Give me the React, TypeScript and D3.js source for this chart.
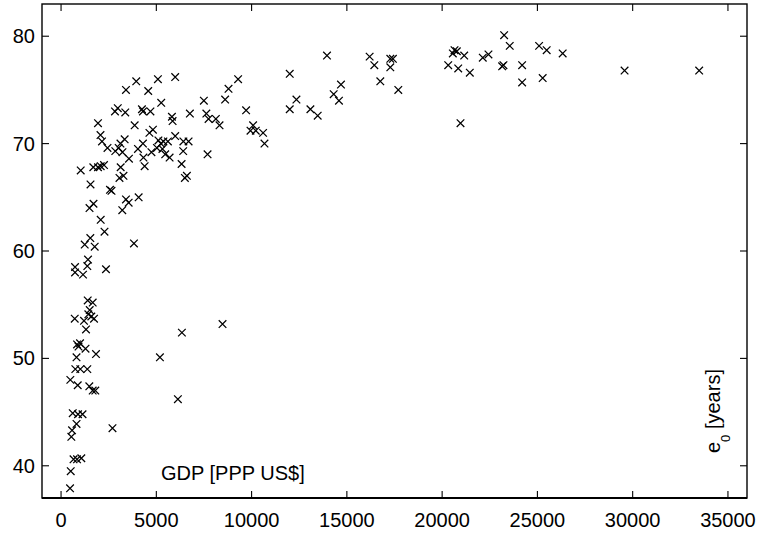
import React from "react";
import * as d3 from "d3";

const gdp = [
  1032, 1693, 1939, 2081, 2254, 1939, 2070, 2149, 2437, 2830, 2977, 3370, 3407, 3946, 4575, 5084, 5990, 5257,
  4245, 4298, 4691, 3863, 2846, 3024, 3118, 3223, 3338, 3564, 3129, 3276, 3066, 4036, 4298, 4324, 4387, 4743,
  4638, 4822, 5110, 5241, 5372, 5608, 5031, 5320, 5466, 5697, 5990, 5818, 5854, 6326, 6420, 6693, 6410, 6761,
  6499, 6604, 7495, 7626, 7741, 7689, 8124, 8317, 8611, 8789, 9292, 9712, 9942, 10079, 10220, 10603, 10676,
  12002, 13957, 12002, 12353, 13087, 13469, 14308, 14691, 14586, 16195, 16441, 16755, 17280, 17416, 17280,
  17699, 20319, 20561, 20650, 20770, 21158, 20844, 21452, 20964, 22133, 22431, 23150, 23218, 23254, 23548,
  24198, 24198, 25089, 25487, 25277, 26326, 29575, 33490,
  1494, 1703, 3407, 3548, 3213, 4072, 2081, 2280, 1242, 1536, 1766, 3826, 1415, 1378, 734, 734, 1153, 2358,
  1399, 1661, 1504, 1431, 1588, 718, 1205, 1730, 1310, 6342, 8475, 2568, 2647, 1546,
  839, 996, 917, 1284, 1834, 812, 5189, 749, 1012, 1378, 487, 875, 1483, 1661, 1798, 6132, 613, 891, 1127,
  812, 577, 540, 2699, 655, 839, 1064, 508, 472,
];

const e0 = [
  67.5, 67.8, 67.8, 67.9, 68.0, 71.9, 70.8, 70.2, 69.6, 73.0, 73.3, 72.9, 75.0, 75.8, 74.9, 76.0, 76.2, 73.8,
  73.2, 73.0, 73.0, 71.7, 69.3, 69.6, 70.0, 69.2, 70.4, 68.6, 67.8, 67.0, 66.8, 69.5, 70.0, 68.7, 67.9, 69.2,
  71.0, 71.3, 70.3, 70.0, 70.2, 70.2, 69.6, 69.5, 69.0, 68.7, 70.7, 72.5, 72.1, 68.1, 70.2, 70.2, 69.3, 72.8,
  66.8, 67.0, 74.0, 72.8, 72.3, 69.0, 72.3, 71.7, 74.1, 75.1, 76.0, 73.1, 71.2, 71.7, 71.2, 71.0, 70.0,
  76.5, 78.2, 73.2, 74.1, 73.2, 72.6, 74.6, 75.5, 74.0, 78.1, 77.3, 75.8, 77.9, 77.9, 77.1,
  75.0, 77.3, 78.4, 78.7, 78.6, 78.2, 77.0, 76.6, 71.9, 78.0, 78.3, 77.2, 77.3, 80.1, 79.1,
  77.3, 75.7, 79.1, 78.7, 76.1, 78.4, 76.8, 76.8,
  64.0, 64.4, 64.8, 64.5, 63.8, 65.0, 62.9, 61.8, 60.6, 61.2, 60.4, 60.7, 59.2, 58.6, 58.5, 58.0, 57.8, 58.3,
  55.4, 55.2, 54.5, 54.1, 53.9, 53.7, 53.5, 53.7, 52.7, 52.4, 53.2, 65.7, 65.6, 66.2,
  51.3, 51.4, 51.1, 50.9, 50.4, 50.1, 50.1, 49.0, 49.0, 49.0, 48.0, 47.5, 47.4, 47.0, 47.0, 46.2, 44.9, 44.8, 44.8,
  43.9, 43.3, 42.7, 43.5, 40.6, 40.6, 40.7, 39.5, 37.9,
];

const xTicks = [0, 5000, 10000, 15000, 20000, 25000, 30000, 35000];
const yTicks = [40, 50, 60, 70, 80];
const xLabel = "GDP [PPP US$]";
const yLabelMain = "e";
const yLabelSub = "0";
const yLabelRest = " [years]";

const W = 758;
const H = 534;
const L = 42, R = 747, T = 4, B = 498;
const FONT = "'Liberation Sans', Arial, Helvetica, sans-serif";

export default function App() {
  const x = d3.scaleLinear().domain([-1000, 36000]).range([L, R]);
  const y = d3.scaleLinear().domain([37, 83]).range([B, T]);
  const s = 3.8;
  const tick = 7;
  return (
    <svg width={W} height={H} style={{ position: "absolute", left: 0, top: 0, background: "#fff" }}
      fontFamily={FONT}>
      <rect x={0} y={0} width={W} height={H} fill="#fff" />
      {gdp.map((g, i) => {
        const cx = x(g), cy = y(e0[i]);
        return (
          <path key={i} d={`M${cx - s},${cy - s}L${cx + s},${cy + s}M${cx - s},${cy + s}L${cx + s},${cy - s}`}
            stroke="#000" strokeWidth={1.25} fill="none" />
        );
      })}
      <rect x={L} y={T} width={R - L} height={B - T} fill="none" stroke="#000" strokeWidth={1.4} />
      <line x1={L} x2={R} y1={B} y2={B} stroke="#000" strokeWidth={2} />
      {xTicks.map((t) => (
        <g key={"x" + t}>
          <line x1={x(t)} x2={x(t)} y1={B} y2={B - tick} stroke="#000" strokeWidth={1.1} />
          <line x1={x(t)} x2={x(t)} y1={T} y2={T + tick} stroke="#000" strokeWidth={1.1} />
          <text x={x(t)} y={527} textAnchor="middle" fontSize={20} fill="#000">{t}</text>
        </g>
      ))}
      {yTicks.map((t) => (
        <g key={"y" + t}>
          <line x1={L} x2={L + tick} y1={y(t)} y2={y(t)} stroke="#000" strokeWidth={1.1} />
          <line x1={R} x2={R - tick} y1={y(t)} y2={y(t)} stroke="#000" strokeWidth={1.1} />
          <text x={35} y={y(t) + 7} textAnchor="end" fontSize={20} fill="#000">{t}</text>
        </g>
      ))}
      <text x={161} y={480} fontSize={20} fill="#000">{xLabel}</text>
      <text transform="translate(720,453) rotate(-90)" fontSize={20} fill="#000">
        {yLabelMain}
        <tspan fontSize={13} dy={10}>{yLabelSub}</tspan>
        <tspan dy={-10}>{yLabelRest}</tspan>
      </text>
    </svg>
  );
}
